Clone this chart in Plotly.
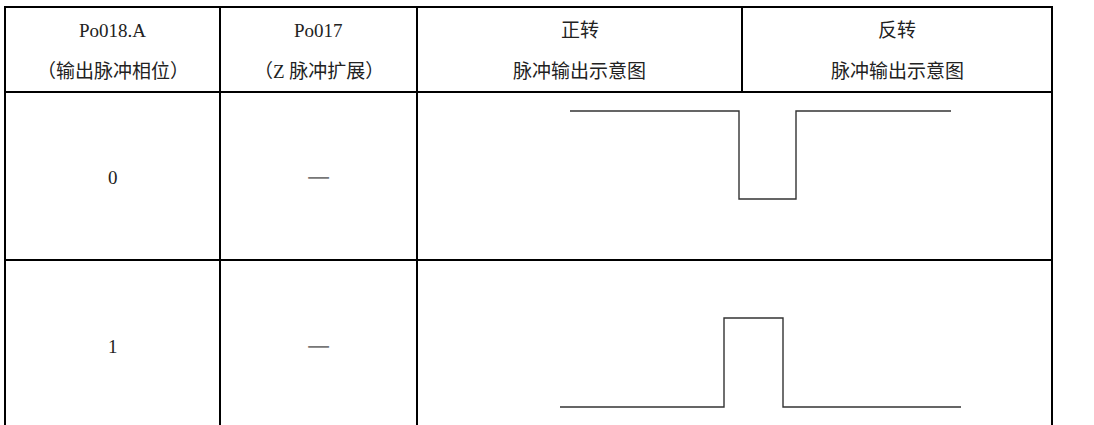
import plotly.graph_objects as go

W, H = 1094, 425

# ---- table content ----
header_line1 = ["Po018.A", "Po017", "正转", "反转"]
header_line2 = ["（输出脉冲相位）", "（Z 脉冲扩展）", "脉冲输出示意图", "脉冲输出示意图"]
row_phase = ["0", "1"]
row_zext = ["—", "—"]

# pulse waveforms (time, level), step-wise
pulse0_t = [0, 169, 169, 226, 226, 381]
pulse0_level = [1, 1, 0, 0, 1, 1]
pulse1_t = [0, 164, 164, 223, 223, 401]
pulse1_level = [0, 0, 1, 1, 0, 0]

# ---- layout geometry (pixels) ----
col_x = [5, 220, 417, 742, 1052]
row_y = [7, 92, 260]
header_y = [30, 71]
row_text_y = [177, 346]
pulse_boxes = [  # x_start, x_end, y_level1, y_level0
    (570, 951, 111, 199),
    (560, 961, 318, 407),
]

FONT = "Liberation Serif, Noto Sans CJK SC, sans-serif"
TXT = "#222"

fig = go.Figure()

fig.update_layout(
    width=W, height=H,
    margin=dict(l=0, r=0, t=0, b=0),
    paper_bgcolor="white", plot_bgcolor="white",
    showlegend=False,
    xaxis=dict(range=[0, W], visible=False, domain=[0, 1], fixedrange=True),
    yaxis=dict(range=[H, 0], visible=False, domain=[0, 1], fixedrange=True),
)

shapes = []
lw = 2
for y in row_y:
    shapes.append(dict(type="line", xref="x", yref="y", x0=col_x[0] - 1, x1=col_x[-1] + 1, y0=y, y1=y,
                       line=dict(color="black", width=lw)))
for x in [col_x[0], col_x[1], col_x[2], col_x[4]]:
    shapes.append(dict(type="line", xref="x", yref="y", x0=x, x1=x, y0=row_y[0], y1=H + 20,
                       line=dict(color="black", width=lw)))
# the 正转/反转 divider only in the header row
shapes.append(dict(type="line", xref="x", yref="y", x0=col_x[3], x1=col_x[3], y0=row_y[0], y1=row_y[1],
                   line=dict(color="black", width=lw)))

annotations = []
for i in range(4):
    cx = (col_x[i] + col_x[i + 1]) / 2
    annotations.append(dict(x=cx, y=header_y[0], xref="x", yref="y", text=header_line1[i],
                            showarrow=False, font=dict(family=FONT, size=19, color=TXT)))
    annotations.append(dict(x=cx, y=header_y[1], xref="x", yref="y", text=header_line2[i],
                            showarrow=False, font=dict(family=FONT, size=19, color=TXT)))
for r in range(2):
    cx0 = (col_x[0] + col_x[1]) / 2
    cx1 = (col_x[1] + col_x[2]) / 2
    annotations.append(dict(x=cx0, y=row_text_y[r], xref="x", yref="y", text=row_phase[r],
                            showarrow=False, font=dict(family=FONT, size=19, color=TXT)))
    annotations.append(dict(x=cx1, y=row_text_y[r], xref="x", yref="y", text=row_zext[r], yshift=4,
                            showarrow=False, font=dict(family="Noto Sans CJK SC", size=26, color="#777")))

fig.add_trace(go.Scatter(x=[0], y=[0], mode="markers", marker=dict(opacity=0), hoverinfo="skip",
                         xaxis="x", yaxis="y"))

pulses = [(pulse0_t, pulse0_level), (pulse1_t, pulse1_level)]
pad = 6
for k, ((t, lev), (px0, px1, py1, py0)) in enumerate(zip(pulses, pulse_boxes)):
    ax = k + 2
    T = max(t)
    sx = T / (px1 - px0)
    sy = 1.0 / (py0 - py1)
    dom_x = [(px0 - pad) / W, (px1 + pad) / W]
    dom_y = [1 - (py0 + pad) / H, 1 - (py1 - pad) / H]
    fig.add_trace(go.Scatter(x=t, y=lev, mode="lines",
                             line=dict(color="#333", width=1.4),
                             hoverinfo="skip",
                             xaxis=f"x{ax}", yaxis=f"y{ax}"))
    fig.layout[f"xaxis{ax}"] = dict(domain=dom_x, range=[-pad * sx, T + pad * sx], visible=False,
                                    anchor=f"y{ax}", fixedrange=True)
    fig.layout[f"yaxis{ax}"] = dict(domain=dom_y, range=[-pad * sy, 1 + pad * sy], visible=False,
                                    anchor=f"x{ax}", fixedrange=True)

fig.update_layout(shapes=shapes, annotations=annotations)
fig.write_html("out.html", config={"displayModeBar": False},
               post_script="document.body.style.margin='0';document.body.style.overflow='hidden';")
